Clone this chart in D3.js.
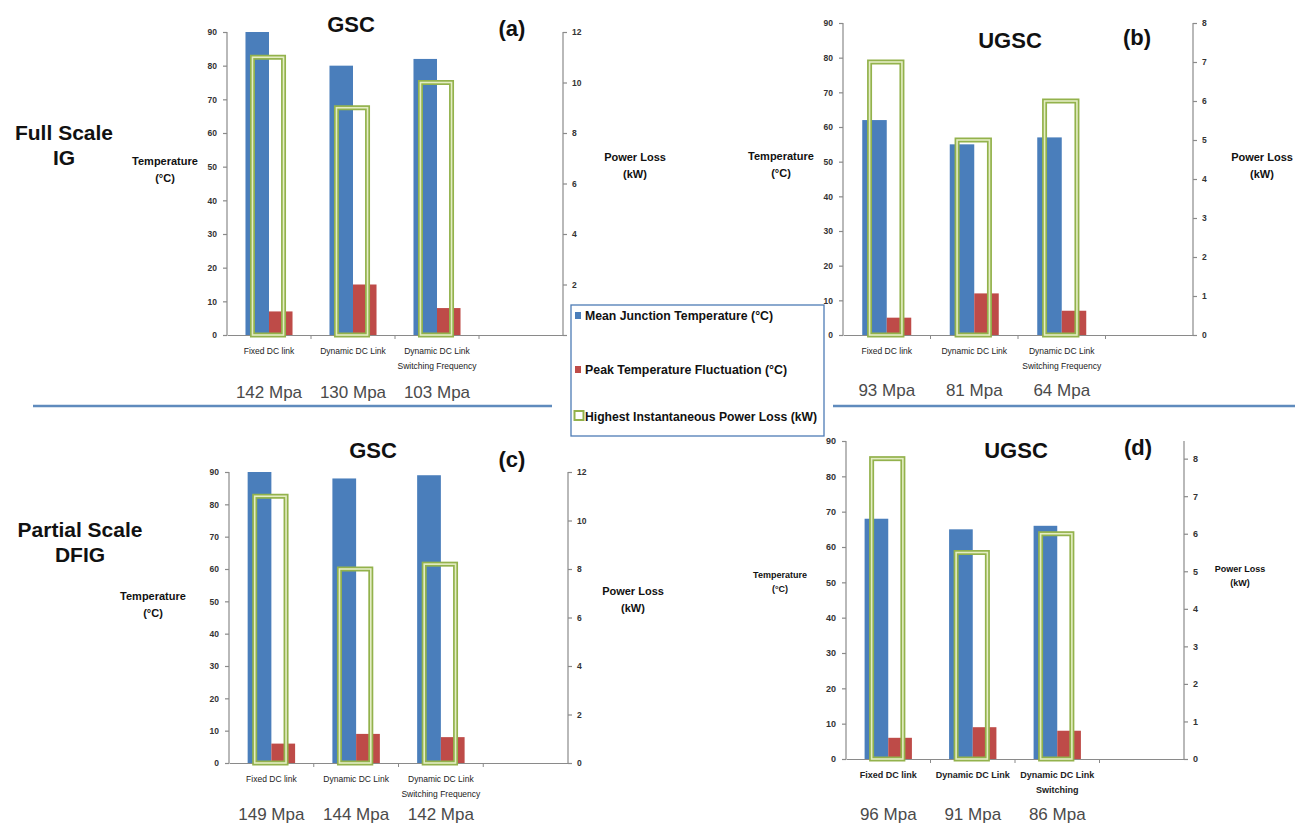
<!DOCTYPE html>
<html>
<head>
<meta charset="utf-8">
<script src="https://cdn.jsdelivr.net/npm/d3@7"></script>
<style>
html,body{margin:0;padding:0;background:#fff;}
svg{display:block;}
</style>
</head>
<body>
<svg id="chart" width="1303" height="826"></svg>
<script>
// ---------- DATA ----------
const categories = ["Fixed DC link", "Dynamic DC Link", "Dynamic DC Link Switching Frequency", ""];
const catLabelsFull = [["Fixed DC link"], ["Dynamic DC Link"], ["Dynamic DC Link", "Switching Frequency"]];
const catLabelsShort = [["Fixed DC link"], ["Dynamic DC Link"], ["Dynamic DC Link", "Switching"]];

const seriesNames = ["Mean Junction Temperature (°C)", "Peak Temperature Fluctuation (°C)", "Highest Instantaneous Power Loss (kW)"];

const tempTicks = [0, 10, 20, 30, 40, 50, 60, 70, 80, 90];
const powerTicks12 = [0, 2, 4, 6, 8, 10, 12];
const powerTicks8 = [0, 1, 2, 3, 4, 5, 6, 7, 8];

// (a) Full Scale IG - GSC
const meanTempA = [90, 80, 82];
const peakFluctA = [7, 15, 8];
const powerLossA = [11, 9, 10];
const stressA = ["142 Mpa", "130 Mpa", "103 Mpa"];
// (b) Full Scale IG - UGSC
const meanTempB = [62, 55, 57];
const peakFluctB = [5, 12, 7];
const powerLossB = [7, 5, 6];
const stressB = ["93 Mpa", "81 Mpa", "64 Mpa"];
// (c) Partial Scale DFIG - GSC
const meanTempC = [90, 88, 89];
const peakFluctC = [6, 9, 8];
const powerLossC = [11, 8, 8.2];
const stressC = ["149 Mpa", "144 Mpa", "142 Mpa"];
// (d) Partial Scale DFIG - UGSC
const meanTempD = [68, 65, 66];
const peakFluctD = [6, 9, 8];
const powerLossD = [8, 5.5, 6];
const stressD = ["96 Mpa", "91 Mpa", "86 Mpa"];

// ---------- STYLE ----------
const BLUE = "#4a7ebb", RED = "#be4b48", GREEN_D = "#93b24c", GREEN_L = "#e4edc4";
const AXIS = "#8a8a8a";
const SMALL = "'Liberation Sans',Arial,sans-serif";
const BIG = "'Liberation Sans',Arial,sans-serif";

const svg = d3.select("#chart");

const panels = [
  {x0:227, x1:563, top:32, bottom:335, rMax:12, rTicks:powerTicks12, mean:meanTempA, peak:peakFluctA, loss:powerLossA, stress:stressA, labels:catLabelsFull,
   title:"GSC", titleX:351, titleY:32, tag:"(a)", tagX:512, tagY:36,
   tT:{x:165, y:165, size:11}, pT:{x:635, y:161, size:11}, stressY:398, fs:8},
  {x0:843, x1:1193, top:23, bottom:335, rMax:8, rTicks:powerTicks8, mean:meanTempB, peak:peakFluctB, loss:powerLossB, stress:stressB, labels:catLabelsFull,
   title:"UGSC", titleX:1010, titleY:48, tag:"(b)", tagX:1137, tagY:45,
   tT:{x:781, y:160, size:11}, pT:{x:1262, y:161, size:11}, stressY:396, fs:8},
  {x0:229, x1:568, top:472, bottom:763, rMax:12, rTicks:powerTicks12, mean:meanTempC, peak:peakFluctC, loss:powerLossC, stress:stressC, labels:catLabelsFull,
   title:"GSC", titleX:373, titleY:458, tag:"(c)", tagX:512, tagY:467,
   tT:{x:153, y:600, size:11}, pT:{x:633, y:595, size:11}, stressY:820, fs:8},
  {x0:846, x1:1184, top:441, bottom:759, rMax:8.47, rTicks:powerTicks8, mean:meanTempD, peak:peakFluctD, loss:powerLossD, stress:stressD, labels:catLabelsShort,
   title:"UGSC", titleX:1016, titleY:458, tag:"(d)", tagX:1138, tagY:455,
   tT:{x:780, y:578, size:9}, pT:{x:1240, y:572, size:9}, stressY:820, fs:8.5}
];

panels.forEach(p => {
  const g = svg.append("g");
  const x = d3.scaleBand().domain(categories).range([p.x0, p.x1]).padding(0);
  const yL = d3.scaleLinear().domain([0, 90]).range([p.bottom, p.top]);
  const yR = d3.scaleLinear().domain([0, p.rMax]).range([p.bottom, p.top]);
  const bw = x.bandwidth();
  const cx = c => x(c) + bw / 2;
  const cats = categories.slice(0, 3);

  // axes
  const axL = g.append("g").attr("transform", `translate(${p.x0},0)`)
    .call(d3.axisLeft(yL).tickValues(tempTicks).tickSize(4).tickPadding(6));
  const axR = g.append("g").attr("transform", `translate(${p.x1},0)`)
    .call(d3.axisRight(yR).tickValues(p.rTicks).tickSize(4).tickPadding(5));
  const axB = g.append("g").attr("transform", `translate(0,${p.bottom})`)
    .call(d3.axisBottom(x).tickValues([]).tickSizeOuter(0));
  // category boundary ticks
  g.selectAll(".bt").data(categories.slice(1)).join("line")
    .attr("x1", d => x(d)).attr("x2", d => x(d))
    .attr("y1", p.bottom).attr("y2", p.bottom + 4)
    .attr("stroke", AXIS);
  [axL, axR, axB].forEach(a => {
    a.selectAll("path,line").attr("stroke", AXIS).attr("stroke-width", 1.2);
    a.selectAll("text").attr("font-family", SMALL).attr("font-weight", "bold")
      .attr("font-size", p.fs + 0.5).attr("fill", "#333");
  });
  axL.select(".domain").attr("d", `M-0,${p.top}V${p.bottom}`);
  axR.select(".domain").attr("d", `M0,${p.top}V${p.bottom}`);

  // bars
  const w = bw * 0.28;
  g.selectAll(".mean").data(cats).join("rect")
    .attr("x", c => cx(c) - w).attr("width", w)
    .attr("y", (c, i) => yL(p.mean[i])).attr("height", (c, i) => p.bottom - yL(p.mean[i]))
    .attr("fill", BLUE);
  g.selectAll(".peak").data(cats).join("rect")
    .attr("x", c => cx(c)).attr("width", w)
    .attr("y", (c, i) => yL(p.peak[i])).attr("height", (c, i) => p.bottom - yL(p.peak[i]))
    .attr("fill", RED);
  const gw = bw * 0.37;
  [[GREEN_D, 5], [GREEN_L, 1.6]].forEach(([col, sw]) => {
    g.selectAll(null).data(cats).join("rect")
      .attr("x", c => cx(c) - 1 - gw / 2).attr("width", gw)
      .attr("y", (c, i) => yR(p.loss[i])).attr("height", (c, i) => p.bottom - yR(p.loss[i]))
      .attr("fill", "none").attr("stroke", col).attr("stroke-width", sw);
  });

  // category labels
  cats.forEach((c, i) => {
    const t = g.append("text").attr("x", cx(c)).attr("y", p.bottom + 19)
      .attr("text-anchor", "middle").attr("font-family", SMALL)
      .attr("font-size", p.fs + 0.5).attr("font-weight", p.fs > 8 ? "bold" : "normal").attr("fill", "#222");
    p.labels[i].forEach((l, k) => t.append("tspan").attr("x", cx(c)).attr("dy", k ? 15 : 0).text(l));
  });

  // stress labels
  cats.forEach((c, i) => {
    g.append("text").attr("x", cx(c)).attr("y", p.stressY).attr("text-anchor", "middle")
      .attr("font-family", BIG).attr("font-size", 17).attr("fill", "#4a4a4a").text(p.stress[i]);
  });

  // titles
  g.append("text").attr("x", p.titleX).attr("y", p.titleY).attr("text-anchor", "middle")
    .attr("font-family", BIG).attr("font-weight", "bold").attr("font-size", 22).attr("fill", "#111").text(p.title);
  g.append("text").attr("x", p.tagX).attr("y", p.tagY).attr("text-anchor", "middle")
    .attr("font-family", BIG).attr("font-weight", "bold").attr("font-size", 22).attr("fill", "#111").text(p.tag);

  // axis titles
  [[p.tT, "Temperature", "(°C)"], [p.pT, "Power Loss", "(kW)"]].forEach(([o, a, b]) => {
    const t = g.append("text").attr("x", o.x).attr("y", o.y).attr("text-anchor", "middle")
      .attr("font-family", SMALL).attr("font-weight", "bold").attr("font-size", o.size).attr("fill", "#111");
    t.append("tspan").attr("x", o.x).text(a);
    t.append("tspan").attr("x", o.x).attr("dy", o.size * 1.55).text(b);
  });
});

// row labels
[["Full Scale", "IG", 64, 140], ["Partial Scale", "DFIG", 80, 537]].forEach(([a, b, xx, yy]) => {
  const t = svg.append("text").attr("x", xx).attr("y", yy).attr("text-anchor", "middle")
    .attr("font-family", BIG).attr("font-weight", "bold").attr("font-size", 21).attr("fill", "#111");
  t.append("tspan").attr("x", xx).text(a);
  t.append("tspan").attr("x", xx).attr("dy", 25).text(b);
});

// separators
[[33, 552], [833, 1295]].forEach(([a, b]) => {
  svg.append("line").attr("x1", a).attr("x2", b).attr("y1", 406).attr("y2", 406)
    .attr("stroke", "#5f8bbd").attr("stroke-width", 2.5);
});

// legend
const lg = svg.append("g");
lg.append("rect").attr("x", 571).attr("y", 305).attr("width", 253).attr("height", 131)
  .attr("fill", "#fff").attr("stroke", "#4d7cb5").attr("stroke-width", 1.3);
const legendY = [320, 374, 421];
const legendW = [188, 202, 232];
seriesNames.forEach((n, i) => {
  if (i < 2) {
    lg.append("rect").attr("x", 575).attr("y", legendY[i] - 8).attr("width", 6).attr("height", 7)
      .attr("fill", i === 0 ? BLUE : RED);
  } else {
    lg.append("rect").attr("x", 574.5).attr("y", legendY[i] - 10).attr("width", 9).attr("height", 9)
      .attr("fill", "none").attr("stroke", GREEN_D).attr("stroke-width", 2);
  }
  lg.append("text").attr("x", 585).attr("y", legendY[i]).attr("font-family", SMALL)
    .attr("font-weight", "bold").attr("font-size", 12.5).attr("fill", "#111")
    .attr("textLength", legendW[i]).attr("lengthAdjust", "spacingAndGlyphs").text(n);
});
</script>
</body>
</html>
